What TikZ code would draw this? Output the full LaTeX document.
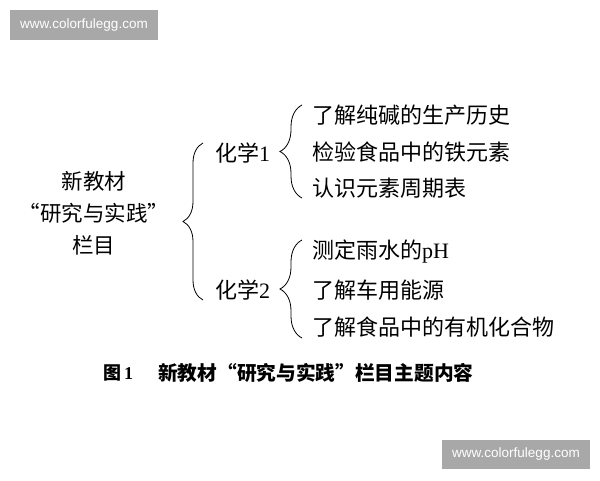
\documentclass[tikz,border=0pt]{standalone}
\usepackage{fontspec}
\setmainfont{Liberation Serif}
\setsansfont{Liberation Sans}
\newfontfamily\cjk{Noto Sans CJK SC}
\usetikzlibrary{decorations.pathreplacing}

\begin{document}
\begin{tikzpicture}[x=1pt, y=-1pt,
  txt/.style = {inner sep=0pt, font=\fontsize{22}{24}\selectfont},
  item/.style = {txt, anchor=west},
  cjkitem/.style = {item, font=\cjk\fontsize{22}{24}\selectfont},
  curly/.style = {decorate, decoration={brace, amplitude=#1}, line width=0.8pt},
  wmbox/.style = {fill=black!34},
  wmtext/.style = {text=white, font=\sffamily\fontsize{13.5}{15}\selectfont}]
\useasboundingbox[fill=white] (0,0) rectangle (600,480);
% watermarks
\fill[wmbox] (10,10) rectangle (158,40);
\path (84,25) node[wmtext] (wmA) {www.colorfulegg.com};
\fill[wmbox] (442,440) rectangle (590,469);
\path (516,454.5) node[wmtext] (wmB) {www.colorfulegg.com};
% left title
\path (94,213) node[align=center, font=\cjk\fontsize{21.5}{32}\selectfont] (main)
  {新教材\\“研究与实践”\\栏目};
\path (203,300) coordinate (bigbot);
\path (203,143) coordinate (bigtop);
\draw[curly=20] (bigbot) -- (bigtop);
% branches
\path (215,153) node[item] (chemA) {{\cjk 化学}1};
\path (215,290) node[item] (chemB) {{\cjk 化学}2};
\path (302,198) coordinate (Abot);
\path (302,105) coordinate (Atop);
\draw[curly=22] (Abot) -- (Atop);
\path (302,338) coordinate (Bbot);
\path (302,240) coordinate (Btop);
\draw[curly=22] (Bbot) -- (Btop);
% topics
\path (312,115) node[cjkitem] (A1) {了解纯碱的生产历史};
\path (312,152) node[cjkitem] (A2) {检验食品中的铁元素};
\path (312,188) node[cjkitem] (A3) {认识元素周期表};
\path (312,252) node[item] (B1) {{\cjk 测定雨水的}pH};
\path (312,290) node[cjkitem] (B2) {了解车用能源};
\path (312,327) node[cjkitem] (B3) {了解食品中的有机化合物};
% caption
\path (103,373) node[anchor=west, inner sep=0pt, font=\bfseries\fontsize{18}{20}\selectfont] (capnum)
  {{\cjk 图}\,1};
\path (158,373) node[anchor=west, inner sep=0pt, font=\cjk\bfseries\fontsize{19.7}{20}\selectfont] (captext)
  {新教材“研究与实践”栏目主题内容};
\end{tikzpicture}
\end{document}
